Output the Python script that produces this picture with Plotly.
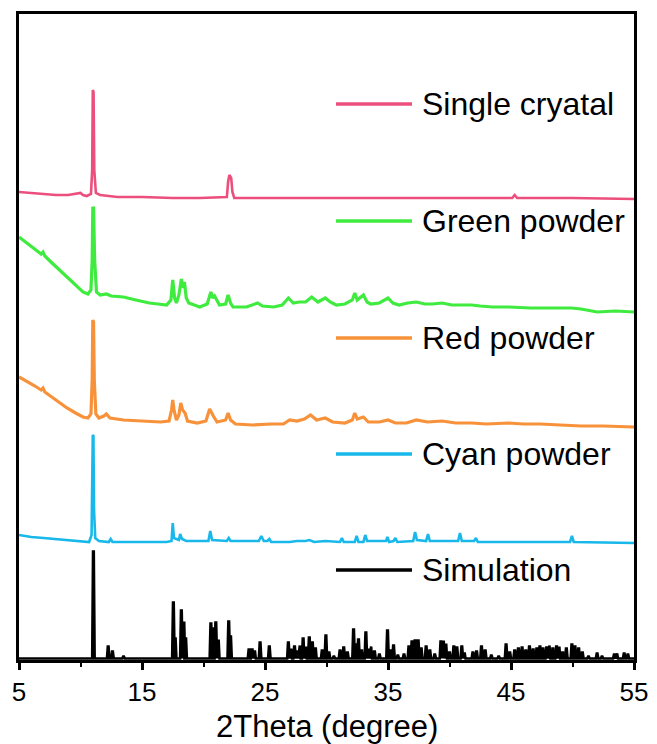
import plotly.graph_objects as go

# ---------------- data (intensity in arbitrary units, stacked) ----------------
single_pts = [(5, 468), (6, 467), (7, 466), (8, 465), (9, 465), (10.0, 467), (10.2, 465),
              (10.5, 464), (10.85, 466), (10.95, 490), (11.0, 570), (11.06, 568), (11.12, 490),
              (11.25, 467), (11.6, 465), (13, 463), (15, 463), (17.5, 462), (19.7, 462),
              (21.9, 463), (22.0, 478), (22.1, 485), (22.25, 482), (22.35, 468), (22.5, 462),
              (25, 462), (30, 462), (35, 462), (40, 462), (45.1, 462), (45.3, 465), (45.5, 462),
              (50, 462), (55, 461)]

green_pts = [(5, 423), (5.5, 418), (6.2, 412), (6.8, 406), (6.95, 408), (7.1, 404), (7.6, 398),
             (8.3, 390), (8.9, 383), (9.5, 377), (10.2, 368), (10.6, 366), (10.85, 370),
             (10.95, 400), (11.0, 453), (11.06, 452), (11.15, 400), (11.3, 368), (11.6, 365),
             (12.1, 366), (12.5, 364), (13.5, 363), (14.5, 360), (15.6, 357), (16.3, 356),
             (17.0, 355), (17.35, 360), (17.5, 380), (17.65, 362), (17.8, 357), (18.0, 365),
             (18.2, 381), (18.35, 372), (18.45, 378), (18.6, 362), (18.8, 357), (19.7, 353),
             (20.3, 356), (20.6, 368), (20.75, 362), (20.9, 364), (21.3, 355), (21.8, 356),
             (22.0, 365), (22.2, 357), (22.4, 353), (23.5, 353), (24.0, 355), (24.4, 357),
             (24.8, 354), (25.7, 353), (26.4, 355), (26.9, 362), (27.3, 357), (27.8, 358),
             (28.3, 358), (28.8, 363), (29.3, 358), (29.9, 362), (30.3, 358), (30.8, 355),
             (31.5, 356), (32.1, 360), (32.3, 367), (32.5, 360), (33.0, 365), (33.3, 358),
             (33.6, 356), (34.3, 357), (35.0, 362), (35.4, 357), (35.9, 355), (36.6, 357),
             (37.3, 358), (38.0, 356), (38.6, 356), (39.4, 357), (40.2, 355), (41.0, 355),
             (41.8, 355), (42.5, 354), (43.5, 353), (44.8, 353), (45.8, 352), (46.6, 352),
             (47.5, 352), (48.5, 352), (49.9, 352), (50.7, 351), (52.0, 348), (53.5, 349),
             (55, 348)]

red_pts = [(5, 283), (5.6, 279), (6.3, 274), (6.8, 270), (6.95, 272), (7.1, 268), (7.8, 262),
           (8.9, 252), (9.6, 247), (10.2, 243), (10.6, 242), (10.85, 246), (10.95, 280),
           (11.0, 340), (11.06, 338), (11.12, 280), (11.25, 246), (11.5, 242), (11.9, 244),
           (12.1, 246), (12.4, 242), (13.5, 240), (15, 239), (16.5, 238), (17.2, 239),
           (17.4, 250), (17.5, 260), (17.6, 250), (17.8, 240), (18.0, 245), (18.15, 257),
           (18.3, 250), (18.5, 247), (18.7, 239), (19.5, 237), (20.2, 239), (20.5, 251),
           (20.65, 247), (20.8, 244), (21.1, 238), (21.8, 240), (22.0, 247), (22.2, 240),
           (22.6, 236), (24, 235), (25.5, 236), (26.5, 236), (27.0, 240), (27.6, 239),
           (28.2, 241), (28.7, 245), (29.2, 240), (29.9, 242), (30.5, 238), (31.5, 237),
           (32.1, 240), (32.3, 247), (32.5, 241), (33.0, 243), (33.4, 238), (34.3, 238),
           (35.0, 240), (35.6, 237), (36.5, 237), (37.3, 240), (38.2, 238), (39.4, 239),
           (40.5, 237), (41.8, 237), (43.0, 236), (44.8, 237), (46, 236), (47.4, 236),
           (49, 235), (50.7, 234), (52.5, 234), (54, 233), (55, 233)]

cyan_pts = [(5, 125), (6, 123), (7, 122), (8, 121), (9, 120), (10, 119), (10.7, 118),
            (10.9, 125), (11.0, 225), (11.05, 224), (11.1, 150), (11.2, 122), (11.5, 119),
            (12.3, 118), (12.45, 121), (12.6, 118), (13, 118), (15, 118), (17, 118),
            (17.4, 119), (17.5, 137), (17.6, 122), (18.0, 120), (18.1, 126), (18.25, 121),
            (18.6, 119), (20.4, 119), (20.55, 129), (20.7, 120), (21.9, 119), (22.05, 122),
            (22.2, 119), (24.5, 119), (24.7, 124), (24.9, 119), (25.2, 119), (25.35, 121),
            (25.5, 118), (27, 118), (27.6, 119), (28.3, 119), (28.6, 120), (29, 118),
            (29.9, 119), (31.1, 118), (31.25, 122), (31.4, 118), (32.3, 118), (32.45, 124),
            (32.6, 118), (33.0, 118), (33.15, 125), (33.3, 119), (34.85, 119), (34.95, 123),
            (35.1, 118), (35.45, 119), (35.6, 122), (35.75, 118), (37.05, 119), (37.2, 128),
            (37.35, 120), (38.1, 119), (38.25, 126), (38.4, 119), (40.7, 119), (40.85, 127),
            (41.0, 119), (42.0, 119), (42.15, 122), (42.3, 118), (45, 118), (49.8, 118),
            (49.95, 124), (50.1, 118), (55, 117)]

sim_base = 1.5
sim_pos = [11.05, 12.25, 12.6, 13.5, 17.55, 17.7, 18.2, 18.4, 18.55, 20.6, 20.75, 21.0, 21.2,
           22.05, 22.2, 23.7, 23.95, 24.15, 24.6, 25.35, 26.9, 27.1, 27.4, 27.6, 27.8, 28.1,
           28.3, 28.6, 28.85, 29.1, 29.65, 29.95, 30.2, 30.6, 31.1, 31.4, 31.7, 32.2, 32.45,
           32.6, 32.85, 33.2, 33.4, 33.6, 33.9, 34.3, 34.96, 35.2, 35.45, 35.8, 36.3, 36.7,
           36.95, 37.2, 37.45, 37.7, 38.1, 38.4, 38.8, 39.3, 39.5, 39.7, 40.0, 40.35, 40.6,
           41.0, 41.2, 41.9, 42.2, 42.6, 42.9, 43.4, 44.0, 44.6, 44.9, 45.3, 45.6, 45.9, 46.2,
           46.5, 46.8, 47.1, 47.35, 47.6, 47.9, 48.1, 48.4, 48.7, 48.9, 49.2, 49.5, 49.95,
           50.2, 50.5, 50.8, 51.3, 52.0, 52.4, 53.4, 53.6, 54.2, 54.5]
sim_int = [107, 12, 7, 2, 56, 20, 48, 37, 20, 35, 30, 36, 19,
           37, 22, 9, 9, 8, 16, 12, 16, 10, 12, 8, 13, 20,
           12, 21, 16, 10, 8, 23, 6, 2, 8, 11, 6, 29, 14,
           19, 8, 26, 10, 12, 7, 4, 28, 8, 13, 3, 4, 12,
           17, 18, 18, 10, 12, 8, 4, 17, 18, 15, 6, 12, 11,
           12, 6, 6, 7, 12, 8, 3, 2, 14, 6, 8, 10, 11, 8,
           12, 9, 10, 12, 10, 11, 13, 10, 12, 12, 6, 10, 14,
           12, 10, 6, 2, 5, 2, 4, 5, 5, 4]

labels = ["Single cryatal", "Green powder", "Red powder", "Cyan powder", "Simulation"]
colors = ["#EC4F7D", "#3FEB3F", "#F7923A", "#18B9EA", "#000000"]
widths = [2.6, 3.2, 3.2, 2.6, 2.6]
x_title = "2Theta (degree)"

# ---------------- build traces ----------------
def split(pts):
    return [p[0] for p in pts], [p[1] for p in pts]

sim_x, sim_y = [5], [sim_base]
hw = 0.1
for p, h in zip(sim_pos, sim_int):
    sim_x += [p - hw, p - hw * 0.3, p + hw * 0.3, p + hw]
    sim_y += [sim_base, sim_base + h, sim_base + h, sim_base]
sim_x.append(55)
sim_y.append(sim_base)

series = [split(single_pts), split(green_pts), split(red_pts), split(cyan_pts), (sim_x, sim_y)]

fig = go.Figure()
for (xs, ys), name, c, w in zip(series, labels, colors, widths):
    fig.add_trace(go.Scatter(x=xs, y=ys, mode="lines", name=name,
                             line=dict(color=c, width=w), showlegend=False))

# manual legend (line sample + label next to each pattern)
legend_y = [0.8607, 0.6796, 0.4985, 0.3189, 0.1393]
for lab, c, ly in zip(labels, colors, legend_y):
    fig.add_shape(type="line", xref="paper", yref="paper", x0=0.5154, x1=0.639, y0=ly, y1=ly,
                  line=dict(color=c, width=3.5))
    fig.add_annotation(xref="paper", yref="paper", x=0.652, y=ly, text=lab, showarrow=False,
                       xanchor="left", yanchor="middle",
                       font=dict(family="Liberation Sans, Arial", size=32, color="black"))

# x-axis title as annotation, placed below the tick labels
fig.add_annotation(xref="paper", yref="paper", x=0.5, y=-0.1315, text=x_title,
                   showarrow=False, xanchor="center", yanchor="bottom", borderpad=0,
                   font=dict(family="Liberation Sans, Arial", size=31, color="black"))

fig.update_layout(
    width=657, height=744,
    margin=dict(l=19, r=23, t=14, b=84, autoexpand=False),
    paper_bgcolor="white", plot_bgcolor="white",
    showlegend=False,
    font=dict(family="Liberation Sans, Arial", color="black"),
)
fig.update_xaxes(
    range=[5, 55], tick0=5, dtick=10, ticks="outside", ticklen=7, tickwidth=2.5,
    tickcolor="black", showline=True, linewidth=3, linecolor="black", mirror=True,
    showgrid=False, zeroline=False, tickfont=dict(size=26), automargin=False,
    ticklabelstandoff=0,
    minor=dict(ticks="outside", ticklen=4, tickwidth=2, dtick=5, tick0=5, tickcolor="black"),
)
fig.update_yaxes(
    range=[0, 646], showticklabels=False, ticks="", showline=True, linewidth=3,
    linecolor="black", mirror=True, showgrid=False, zeroline=False, automargin=False,
)

fig.write_html("out.html")
